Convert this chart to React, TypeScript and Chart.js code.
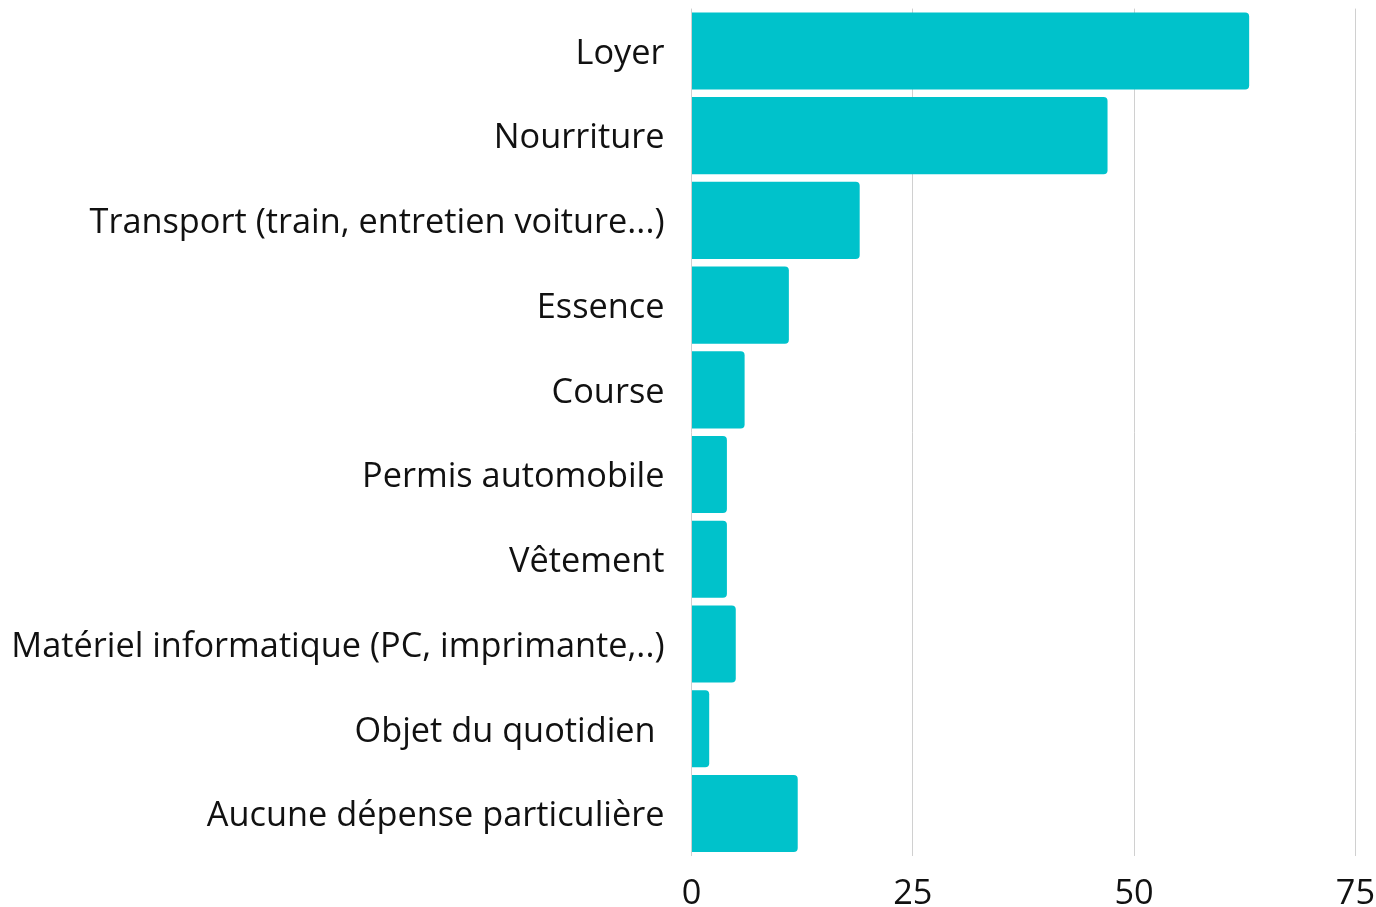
import React, { useEffect, useRef } from "react";
import { Chart, registerables } from "chart.js";

Chart.register(...registerables);

const categories = [
  "Loyer",
  "Nourriture",
  "Transport (train, entretien voiture...)",
  "Essence",
  "Course",
  "Permis automobile",
  "Vêtement",
  "Matériel informatique (PC, imprimante,..)",
  "Objet du quotidien ",
  "Aucune dépense particulière",
];
const values = [63, 47, 19, 11, 6, 4, 4, 5, 2, 12];
const xTicks = [0, 25, 50, 75];

export default function App() {
  const ref = useRef<HTMLCanvasElement>(null);
  useEffect(() => {
    document.body.style.margin = "0";
    document.documentElement.style.overflow = "hidden";
    document.body.style.overflow = "hidden";
    const chart = new Chart(ref.current!, {
      type: "bar",
      data: {
        labels: categories,
        datasets: [
          {
            data: values,
            backgroundColor: "#00c2cb",
            borderWidth: 0,
            borderRadius: 4,
            borderSkipped: "start",
            barPercentage: 0.91,
            categoryPercentage: 1,
          },
        ],
      },
      options: {
        indexAxis: "y",
        animation: false,
        responsive: true,
        maintainAspectRatio: false,
        layout: { padding: { top: 0, right: 0, left: 10, bottom: 0 } },
        plugins: { legend: { display: false }, tooltip: { enabled: false } },
        scales: {
          x: {
            min: 0,
            max: 75,
            afterBuildTicks: (axis: any) => {
              axis.ticks = xTicks.map((v) => ({ value: v }));
            },
            grid: { color: "#d0d0d0", drawTicks: false, lineWidth: 1 },
            border: { display: false },
            ticks: {
              padding: 18,
              color: "#111111",
              font: { family: "'Open Sans'", size: 34.3 },
            },
          },
          y: {
            grid: { display: false, drawTicks: false },
            border: { display: false },
            ticks: {
              padding: 27,
              labelOffset: 3,
              color: "#111111",
              font: { family: "'Open Sans'", size: 34.3 },
              autoSkip: false,
            },
          },
        },
      },
    });
    return () => chart.destroy();
  }, []);
  return (
    <div style={{ width: 1376, height: 907, overflow: "hidden", position: "relative" }}>
      <div style={{ position: "absolute", left: -20, top: -39, width: 1413, height: 972 }}>
        <canvas ref={ref} />
      </div>
    </div>
  );
}
